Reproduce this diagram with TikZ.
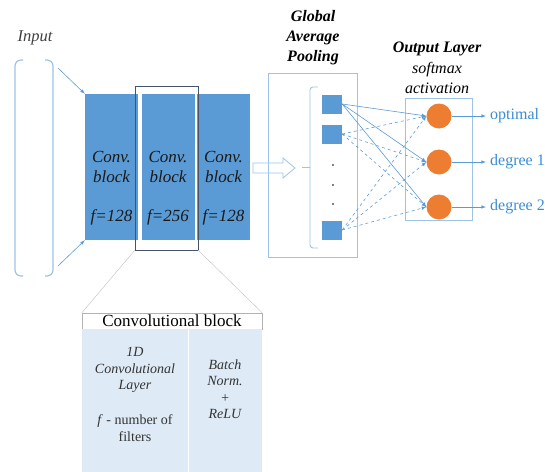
\documentclass[tikz,border=0pt]{standalone}
\usepackage{fontspec}
\setmainfont{Liberation Serif}
\usepackage{tikz}
\usetikzlibrary{positioning}
\usetikzlibrary{arrows,shapes}
\usetikzlibrary{calc}
\definecolor{convblue}{HTML}{5B9BD5}
\definecolor{lineblue}{HTML}{9DC3E6}
\definecolor{paleblue}{HTML}{DEEAF6}
\definecolor{outorange}{HTML}{ED7D31}
\definecolor{framegray}{HTML}{44546A}
\definecolor{labelblue}{HTML}{3C8DD0}

\begin{document}
\begin{tikzpicture}[x=1pt,y=-1pt,
  convtext/.style={font=\fontsize{17}{20}\selectfont\itshape, text=black!90, align=center},
  detailtext/.style={font=\fontsize{14}{16.5}\selectfont\itshape, text=black!80, align=center},
  title/.style={font=\fontsize{16}{20}\selectfont\bfseries\itshape, align=center},
  convblock/.style={rectangle, fill=convblue, minimum width=53pt, minimum height=146pt, inner sep=0pt},
  neuron/.style={circle, fill=outorange, minimum size=25pt, inner sep=0pt},
  gapunit/.style={rectangle, fill=convblue, minimum width=20pt, minimum height=19pt, inner sep=0pt},
  outlabel/.style={font=\fontsize{16}{18}\selectfont, text=labelblue, anchor=west, inner sep=0pt},
  link/.style={-latex, convblue, line width=0.6pt},
  dlink/.style={link, dashed}]
\useasboundingbox (0,0) rectangle (545,471);

\node[font=\fontsize{16.5}{18}\selectfont\itshape, text=black!75] (input) at (35,38) {Input};
\draw[lineblue, line width=1.2pt, rounded corners=6pt] (23,60) -- (15,60) -- (15,276) -- (23,276);
\draw[lineblue, line width=1.2pt, rounded corners=6pt] (45,60) -- (53,60) -- (53,276) -- (45,276);

\node[convblock] (b1) at (111.5,167) {};
\node[convblock] (b2) at (168,167) {};
\node[convblock] (b3) at (223.5,167) {};
\node[draw=framegray, minimum width=63pt, minimum height=164pt, inner sep=0pt] (sel) at (166.5,168) {};

\coordinate (in1) at (58,68);
\coordinate (in2) at (58,266);
\draw[link] (in1) -- (b1.north west);
\draw[link] (in2) -- (b1.south west);

\node[convtext] (t1) at (111.5,167) {Conv.\\block};
\node[convtext] (t2) at (168,167) {Conv.\\block};
\node[convtext] (t3) at (223.5,167) {Conv.\\block};
\node[convtext] (f1) at (111.5,217) {f=128};
\node[convtext] (f2) at (168,217) {f=256};
\node[convtext] (f3) at (223.5,217) {f=128};

\node[draw=gray!60, fill=white, minimum width=180pt, minimum height=16pt, inner sep=0pt,
  font=\fontsize{17}{18}\selectfont] (head) at (172,321) {Convolutional block};
\fill[paleblue] (head.south west) rectangle (262,475);
\draw[white, line width=0.8pt] (188,329) -- (188,475);
\draw[gray!50] (sel.south west) -- (head.north west);
\draw[gray!50] (sel.south east) -- (head.north east);
\node[detailtext] (conv1d) at (135,370) {1D\\Convolutional\\Layer};
\node[detailtext, font=\fontsize{14}{16.5}\selectfont] (filters) at (135,428) {\textit{f} - number of\\filters};
\node[detailtext] (bnrelu) at (225,389) {Batch\\Norm.\\+\\ReLU};

\node[draw=lineblue, minimum width=89pt, minimum height=184pt, inner sep=0pt] (gap) at (312.5,165) {};
\draw[lineblue, line width=0.8pt] (253,163) -- (283,163) -- (283,158) -- (295,168) -- (283,178) -- (283,173) -- (253,173) -- cycle;
\node[title] (gaptitle) at (313,38) {Global\\Average\\Pooling};
\draw[lineblue, line width=0.9pt, rounded corners=3pt] (318,87) -- (310,87) -- (310,248) -- (318,248);
\draw[lineblue, line width=0.9pt] (302,167) -- (310,167);
\node[gapunit] (u1) at (332,104) {};
\node[gapunit] (u2) at (332,134) {};
\node[gapunit] (u3) at (332,230) {};
\fill (333,165) circle (0.8);
\fill (333,185) circle (0.8);
\fill (333,204) circle (0.8);

\node[draw=lineblue, minimum width=67pt, minimum height=122pt, inner sep=0pt] (outbox) at (438.5,159) {};
\node[title] (outtitle) at (437,49) {Output Layer};
\node[font=\fontsize{16}{20}\selectfont\itshape, align=center] (softmax) at (437,78) {softmax\\activation};
\node[neuron] (o1) at (439,116) {};
\node[neuron] (o2) at (439,162) {};
\node[neuron] (o3) at (439,207) {};

\foreach \dst in {o1,o2,o3} \draw[link] (u1.east) -- (\dst.west);
\foreach \src in {u2,u3} {
  \foreach \dst in {o1,o2,o3} \draw[dlink] (\src.east) -- (\dst.west);
}

\node[outlabel] (l1) at (490,116) {optimal};
\node[outlabel] (l2) at (490,162) {degree 1};
\node[outlabel] (l3) at (490,207) {degree 2};
\draw[link, shorten >=4pt] (o1.east) -- (l1.west);
\draw[link, shorten >=4pt] (o2.east) -- (l2.west);
\draw[link, shorten >=4pt] (o3.east) -- (l3.west);
\end{tikzpicture}
\end{document}
